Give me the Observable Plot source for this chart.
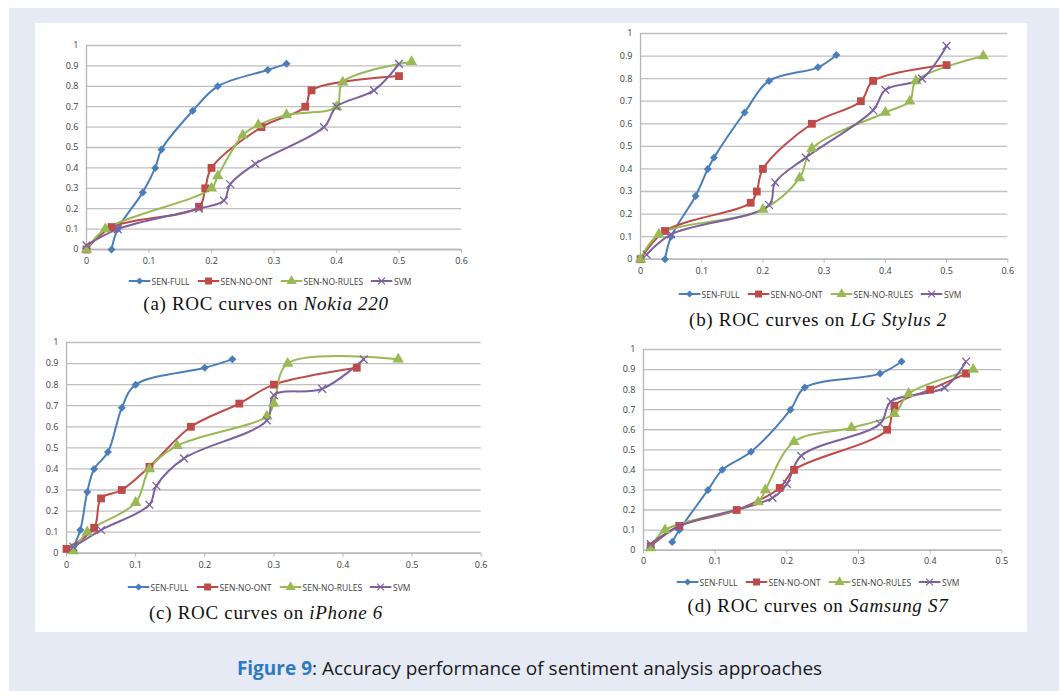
<!DOCTYPE html>
<html>
<head>
<meta charset="utf-8">
<script src="https://cdn.jsdelivr.net/npm/d3@7"></script>
<script src="https://cdn.jsdelivr.net/npm/@observablehq/plot@0.6"></script>
<style>
  html, body { margin: 0; padding: 0; background: #ffffff; }
  body { width: 1059px; height: 691px; position: relative; overflow: hidden; }
  #bg { position: absolute; left: 9px; top: 8px; width: 1050px; height: 683px; background: #e6eaf5; }
  #panel { position: absolute; left: 35px; top: 23px; width: 992px; height: 609px; background: #ffffff; }
  .chart { position: absolute; }
  .legend { position: absolute; display: flex; align-items: center; transform: translateX(-50%); white-space: nowrap;
            font-family: "Open Sans", sans-serif; font-size: 8.5px; color: #404040; }
  .legend .item { display: flex; align-items: center; margin: 0 4px; }
  .legend svg { margin-right: 1px; }
  .cap { position: absolute; transform: translateX(-50%); white-space: nowrap;
         font-family: "Liberation Serif", "Times New Roman", serif; font-size: 19px; letter-spacing: 0.7px; color: #111; }
  .cap i { font-family: "Liberation Serif", serif; font-style: italic; }
  #figcap { position: absolute; left: 0; width: 1059px; top: 655px; text-align: center;
            font-family: "Open Sans", sans-serif; font-size: 19px; color: #1a1a1a; letter-spacing: 0px; }
  #figcap b { color: #2f79c0; font-weight: 700; }
</style>
</head>
<body>
<div id="bg"></div>
<div id="panel"></div>
<div id="figcap"><b>Figure 9</b>: Accuracy performance of sentiment analysis approaches</div>
<script>
// ---- Series meta ----
const seriesNames = ["SEN-FULL", "SEN-NO-ONT", "SEN-NO-RULES", "SVM"];
const seriesColors = ["#4a7ebb", "#be4b48", "#98b954", "#7d60a0"];
const seriesSymbols = ["diamond2", "square", "triangle", "times"];
const yTicks = [0, 0.1, 0.2, 0.3, 0.4, 0.5, 0.6, 0.7, 0.8, 0.9, 1];
const xTicks6 = [0, 0.1, 0.2, 0.3, 0.4, 0.5, 0.6];
const xTicks5 = [0, 0.1, 0.2, 0.3, 0.4, 0.5];

// ---- (a) Nokia 220 : [FPR, TPR] ----
const nokiaFull   = [[0.04,0],[0.05,0.1],[0.09,0.28],[0.11,0.4],[0.12,0.49],[0.17,0.68],[0.21,0.8],[0.29,0.88],[0.32,0.91]];
const nokiaNoOnt  = [[0,0],[0.04,0.11],[0.18,0.21],[0.19,0.3],[0.2,0.4],[0.28,0.6],[0.35,0.7],[0.36,0.78],[0.5,0.85]];
const nokiaNoRule = [[0,0],[0.03,0.1],[0.2,0.3],[0.21,0.36],[0.25,0.56],[0.275,0.61],[0.32,0.66],[0.4,0.7],[0.41,0.82],[0.52,0.92]];
const nokiaSvm    = [[0,0.02],[0.05,0.1],[0.18,0.2],[0.22,0.24],[0.23,0.32],[0.27,0.42],[0.38,0.6],[0.4,0.7],[0.46,0.78],[0.5,0.91]];

// ---- (b) LG Stylus 2 ----
const lgFull   = [[0.04,0],[0.05,0.1],[0.09,0.28],[0.11,0.4],[0.12,0.45],[0.17,0.65],[0.21,0.79],[0.29,0.85],[0.32,0.905]];
const lgNoOnt  = [[0,0],[0.04,0.125],[0.18,0.25],[0.19,0.3],[0.2,0.4],[0.28,0.6],[0.36,0.7],[0.38,0.79],[0.5,0.86]];
const lgNoRule = [[0,0],[0.03,0.11],[0.2,0.22],[0.26,0.36],[0.28,0.49],[0.4,0.65],[0.44,0.7],[0.45,0.79],[0.56,0.9]];
const lgSvm    = [[0.01,0.02],[0.05,0.11],[0.21,0.24],[0.22,0.34],[0.27,0.45],[0.38,0.66],[0.4,0.75],[0.46,0.8],[0.5,0.945]];

// ---- (c) iPhone 6 ----
const iphoneFull   = [[0.01,0.03],[0.02,0.11],[0.03,0.29],[0.04,0.4],[0.06,0.48],[0.08,0.69],[0.1,0.8],[0.2,0.88],[0.24,0.92]];
const iphoneNoOnt  = [[0,0.02],[0.04,0.12],[0.05,0.26],[0.08,0.3],[0.12,0.41],[0.18,0.6],[0.25,0.71],[0.3,0.8],[0.42,0.88]];
const iphoneNoRule = [[0.01,0.01],[0.03,0.1],[0.1,0.24],[0.12,0.4],[0.16,0.51],[0.29,0.65],[0.3,0.71],[0.32,0.9],[0.48,0.92]];
const iphoneSvm    = [[0.01,0.03],[0.05,0.11],[0.12,0.23],[0.13,0.32],[0.17,0.45],[0.29,0.63],[0.3,0.75],[0.37,0.78],[0.43,0.92]];

// ---- (d) Samsung S7 ----
const samsungFull   = [[0.04,0.04],[0.05,0.1],[0.09,0.3],[0.11,0.4],[0.15,0.49],[0.205,0.7],[0.225,0.81],[0.33,0.88],[0.36,0.94]];
const samsungNoOnt  = [[0.01,0.02],[0.05,0.12],[0.13,0.2],[0.19,0.31],[0.21,0.4],[0.34,0.6],[0.35,0.72],[0.4,0.8],[0.45,0.88]];
const samsungNoRule = [[0.01,0.01],[0.03,0.1],[0.16,0.24],[0.17,0.3],[0.21,0.54],[0.29,0.61],[0.35,0.68],[0.37,0.78],[0.46,0.9]];
const samsungSvm    = [[0.01,0.03],[0.05,0.12],[0.18,0.26],[0.2,0.33],[0.22,0.47],[0.33,0.63],[0.345,0.74],[0.42,0.81],[0.45,0.94]];

// ---- Panel captions ----
const capLabels = ["(a) ROC curves on ", "(b) ROC curves on ", "(c) ROC curves on ", "(d) ROC curves on "];
const capDevices = ["Nokia 220", "LG Stylus 2", "iPhone 6", "Samsung S7"];

// ---- Layout (positions only) ----
const M = {left: 32, right: 14, top: 8, bottom: 22};
const panels = [
  {series: [nokiaFull, nokiaNoOnt, nokiaNoRule, nokiaSvm], xmax: 0.6, xt: xTicks6,
   px: 86, pw: 375, py: 45.3, ph: 204, legX: 270, legY: 282, capX: 266, capY: 306},
  {series: [lgFull, lgNoOnt, lgNoRule, lgSvm], xmax: 0.6, xt: xTicks6,
   px: 640, pw: 367.3, py: 33.3, ph: 225.7, legX: 820, legY: 295, capX: 818, capY: 322},
  {series: [iphoneFull, iphoneNoOnt, iphoneNoRule, iphoneSvm], xmax: 0.6, xt: xTicks6,
   px: 66, pw: 414.7, py: 342, ph: 210.7, legX: 269, legY: 588, capX: 266, capY: 615},
  {series: [samsungFull, samsungNoOnt, samsungNoRule, samsungSvm], xmax: 0.5, xt: xTicks5,
   px: 643.3, pw: 358.4, py: 348.7, ph: 200.6, legX: 818, legY: 583, capX: 818, capY: 608}
];

const fmt = d => String(+d.toFixed(1));
const dotR = [3.6, 4.4, 4.2, 3.6];

panels.forEach((p, k) => {
  const data = [];
  p.series.forEach((pts, i) => pts.forEach(([x, y]) => data.push({s: seriesNames[i], x, y})));
  const dotMarks = seriesNames.map((name, i) => {
    const sub = data.filter(d => d.s === name);
    return name === "SVM"
      ? Plot.dot(sub, {x: "x", y: "y", symbol: "s", stroke: "s", r: dotR[i], strokeWidth: 1.3})
      : Plot.dot(sub, {x: "x", y: "y", symbol: "s", fill: "s", stroke: "none", r: dotR[i]});
  });
  const chart = Plot.plot({
    width: M.left + p.pw + M.right,
    height: M.top + p.ph + M.bottom,
    marginLeft: M.left, marginRight: M.right, marginTop: M.top, marginBottom: M.bottom,
    style: {fontFamily: "Open Sans, sans-serif", fontSize: "9px", color: "#404040", background: "transparent", overflow: "visible"},
    x: {domain: [0, p.xmax], label: null},
    y: {domain: [0, 1], label: null},
    color: {domain: seriesNames, range: seriesColors},
    symbol: {domain: seriesNames, range: seriesSymbols},
    marks: [
      Plot.gridY(yTicks, {stroke: "#bfbfbf", strokeOpacity: 1, strokeWidth: 1.3}),
      Plot.ruleX([0], {stroke: "#b5b5b5", strokeWidth: 1.3}),
      Plot.ruleY([0], {stroke: "#b5b5b5", strokeWidth: 1.3}),
      Plot.axisY(yTicks, {tickFormat: fmt, tickSize: 0, tickPadding: 8, label: null}),
      Plot.axisX(p.xt, {tickFormat: fmt, tickSize: 4, tickPadding: 4, stroke: "#b5b5b5", label: null}),
      Plot.line(data, {x: "x", y: "y", z: "s", stroke: "s", strokeWidth: 2, curve: "catmull-rom"}),
      ...dotMarks
    ]
  });
  chart.classList.add("chart");
  chart.style.left = (p.px - M.left) + "px";
  chart.style.top = (p.py - M.top) + "px";
  document.body.appendChild(chart);

  // Legend
  const leg = document.createElement("div");
  leg.className = "legend";
  leg.style.left = p.legX + "px";
  leg.style.top = (p.legY - 7) + "px";
  seriesNames.forEach((name, i) => {
    const item = document.createElement("div");
    item.className = "item";
    const svg = d3.create("svg").attr("width", 22).attr("height", 12);
    svg.append("line").attr("x1", 0).attr("x2", 22).attr("y1", 6).attr("y2", 6)
      .attr("stroke", seriesColors[i]).attr("stroke-width", 2);
    const symMap = {diamond2: d3.symbolDiamond2, square: d3.symbolSquare, triangle: d3.symbolTriangle, times: d3.symbolTimes};
    const path = d3.symbol(symMap[seriesSymbols[i]], dotR[i] * dotR[i] * Math.PI * 0.8)();
    const g = svg.append("path").attr("d", path).attr("transform", "translate(11,6)");
    if (name === "SVM") g.attr("fill", "none").attr("stroke", seriesColors[i]).attr("stroke-width", 1.2);
    else g.attr("fill", seriesColors[i]);
    item.appendChild(svg.node());
    const t = document.createElement("span");
    t.textContent = name;
    item.appendChild(t);
    leg.appendChild(item);
  });
  document.body.appendChild(leg);

  // Caption
  const cap = document.createElement("div");
  cap.className = "cap";
  cap.style.left = p.capX + "px";
  cap.style.top = (p.capY - 13) + "px";
  cap.appendChild(document.createTextNode(capLabels[k]));
  const it = document.createElement("i");
  it.textContent = capDevices[k];
  cap.appendChild(it);
  document.body.appendChild(cap);
});
</script>
</body>
</html>
